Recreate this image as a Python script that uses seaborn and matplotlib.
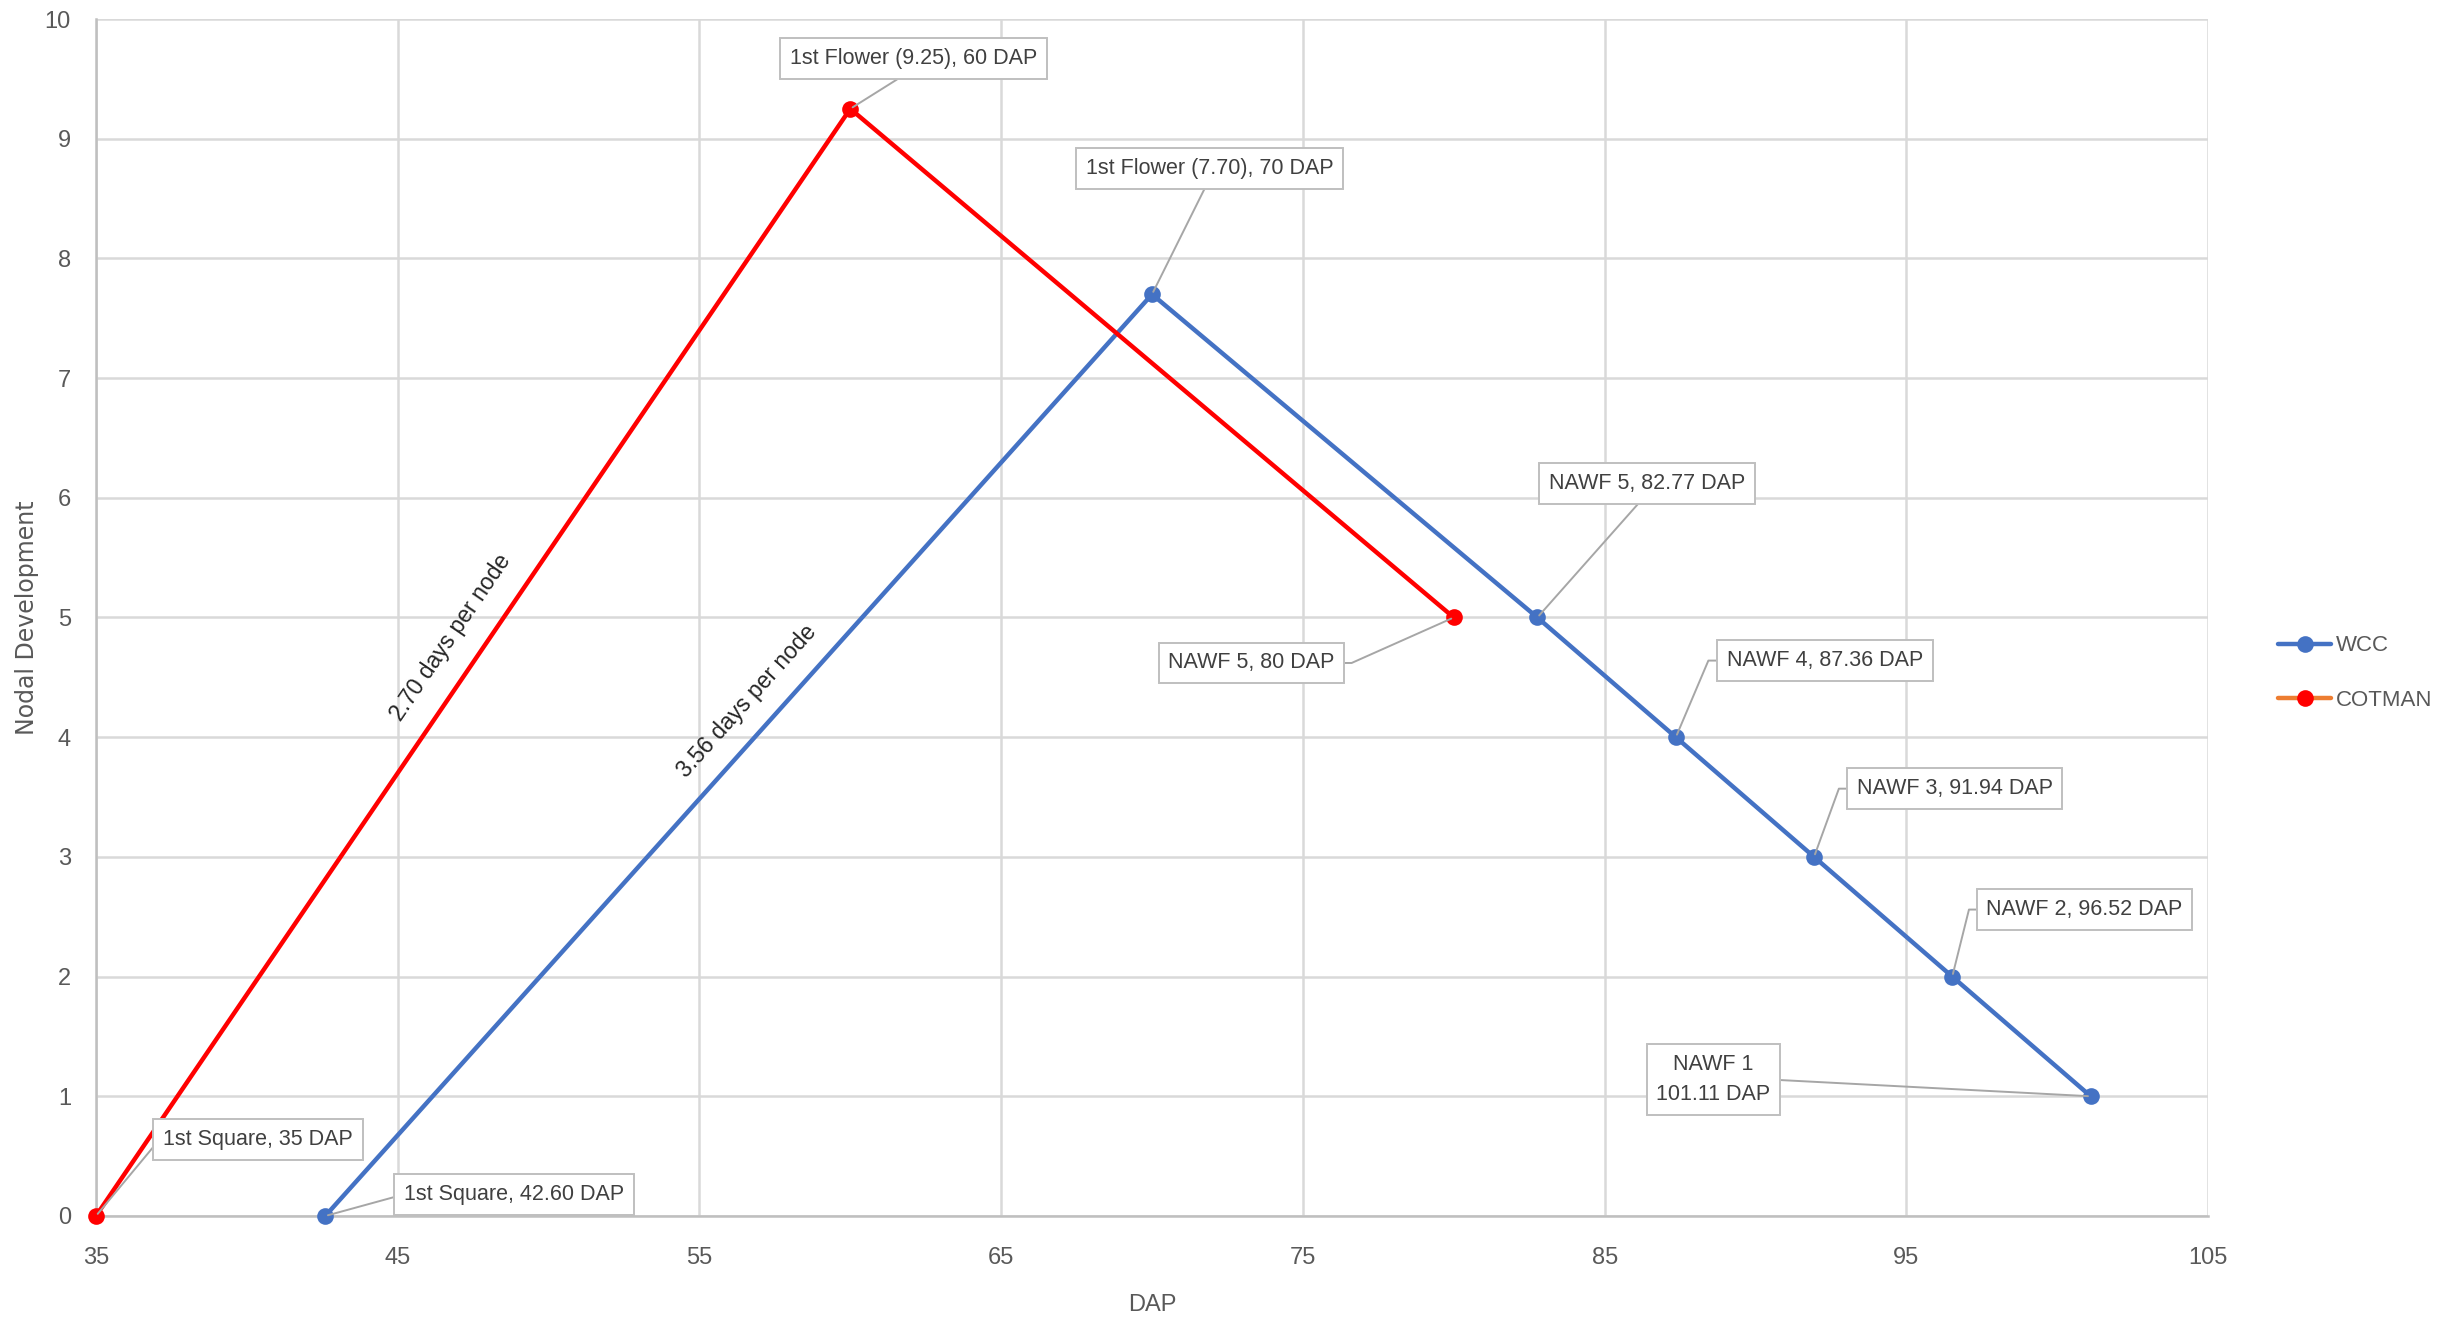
import numpy as np
import pandas as pd
import matplotlib
matplotlib.use("Agg")
import matplotlib.pyplot as plt
from matplotlib.lines import Line2D
import seaborn as sns

# ---- data -------------------------------------------------------------
wcc_dap = [42.60, 70.0, 82.77, 87.36, 91.94, 96.52, 101.11]
wcc_node = [0.0, 7.70, 5.0, 4.0, 3.0, 2.0, 1.0]
wcc_labels = ["1st Square, 42.60 DAP", "1st Flower (7.70), 70 DAP",
              "NAWF 5, 82.77 DAP", "NAWF 4, 87.36 DAP", "NAWF 3, 91.94 DAP",
              "NAWF 2, 96.52 DAP", "NAWF 1\n101.11 DAP"]

cot_dap = [35.0, 60.0, 80.0]
cot_node = [0.0, 9.25, 5.0]
cot_labels = ["1st Square, 35 DAP", "1st Flower (9.25), 60 DAP", "NAWF 5, 80 DAP"]

series_names = ["WCC", "COTMAN"]
x_ticks = [35, 45, 55, 65, 75, 85, 95, 105]
y_ticks = list(range(0, 11))

df = pd.DataFrame({
    "DAP": wcc_dap + cot_dap,
    "Node": wcc_node + cot_node,
    "Variety": ["WCC"] * len(wcc_dap) + ["COTMAN"] * len(cot_dap),
})

# ---- style ------------------------------------------------------------
sns.set_style("whitegrid")
plt.rcParams["font.family"] = ["Liberation Sans Narrow", "Liberation Sans", "DejaVu Sans"]

BLUE = "#4472C4"
RED = "#FF0000"
ORANGE = "#ED7D31"
GRID = "#d9d9d9"
TXT = "#595959"

fig = plt.figure(figsize=(24.41, 13.2), dpi=100)
ax = fig.add_axes([0.0393, 0.0788, 0.9046 - 0.0393, 0.9856 - 0.0788])

sns.lineplot(data=df, x="DAP", y="Node", hue="Variety",
             palette={"WCC": BLUE, "COTMAN": RED}, hue_order=series_names,
             marker="o", markersize=12, markeredgewidth=0, linewidth=3.2,
             sort=False, estimator=None, legend=False, ax=ax)
for ln in ax.lines:
    ln.set_clip_on(False)
    ln.set_zorder(4)

ax.set_xlim(35, 105)
ax.set_ylim(0, 10)
ax.set_xticks(x_ticks)
ax.set_yticks(y_ticks)
ax.tick_params(axis="both", colors=TXT, labelsize=17, length=0)
ax.tick_params(axis="x", pad=22)
ax.tick_params(axis="y", pad=18)
ax.grid(True, color=GRID, linewidth=1.8)
for side in ["top", "right"]:
    ax.spines[side].set_visible(False)
for side in ["left", "bottom"]:
    ax.spines[side].set_color("#bfbfbf")
    ax.spines[side].set_linewidth(1.8)
ax.set_xlabel("DAP", fontsize=17, color=TXT, labelpad=18)
ax.set_ylabel("Nodal Development", fontsize=17, color=TXT, labelpad=4,
              family=["DejaVu Sans"])

# ---- data callouts ----------------------------------------------------
box = dict(boxstyle="square,pad=0.45", fc="white", ec="#bfbfbf", lw=1.4)

def callout(x, y, text, tx, ty, relpos, conn="arc3"):
    ax.annotate(text, xy=(x, y), xytext=(tx, ty), textcoords="data",
                ha="center", va="center", fontsize=15.5, color="#404040",
                bbox=box, zorder=5, linespacing=1.6,
                arrowprops=dict(arrowstyle="-", color="#a6a6a6", lw=1.4,
                                shrinkA=0, shrinkB=2, relpos=relpos,
                                connectionstyle=conn))

wcc_text_pos = [(48.85, 0.18), (71.9, 8.75), (86.4, 6.12), (92.3, 4.64),
                (96.6, 3.57), (100.9, 2.56), (88.6, 1.14)]
wcc_relpos = [(0, 0.5), (0.5, 0), (0.5, 0), (0, 0.5), (0, 0.5), (0, 0.5), (1, 0.5)]
wcc_conn = ["arc3", "arc3", "arc3",
            "angle,angleA=0,angleB=67,rad=0",
            "angle,angleA=0,angleB=70,rad=0",
            "angle,angleA=0,angleB=76,rad=0",
            "arc3"]
for x, y, t, (tx, ty), rp, cs in zip(wcc_dap, wcc_node, wcc_labels,
                                     wcc_text_pos, wcc_relpos, wcc_conn):
    callout(x, y, t, tx, ty, rp, cs)

cot_text_pos = [(40.37, 0.64), (62.1, 9.67), (73.3, 4.62)]
cot_relpos = [(0, 0.7), (0.5, 0), (1, 0.5)]
cot_conn = ["arc3", "arc3", "angle,angleA=0,angleB=24,rad=0"]
for x, y, t, (tx, ty), rp, cs in zip(cot_dap, cot_node, cot_labels,
                                     cot_text_pos, cot_relpos, cot_conn):
    callout(x, y, t, tx, ty, rp, cs)

# ---- rate labels along the rising segments ---------------------------
def screen_angle(x0, y0, x1, y1):
    p0 = ax.transData.transform((x0, y0))
    p1 = ax.transData.transform((x1, y1))
    return np.degrees(np.arctan2(p1[1] - p0[1], p1[0] - p0[0]))

ang_cot = screen_angle(cot_dap[0], cot_node[0], cot_dap[1], cot_node[1])
ang_wcc = screen_angle(wcc_dap[0], wcc_node[0], wcc_dap[1], wcc_node[1])
ax.text(46.77, 4.83, "2.70 days per node", rotation=ang_cot, fontsize=16.5,
        color="#262626", ha="center", va="center", rotation_mode="anchor")
ax.text(56.58, 4.30, "3.56 days per node", rotation=ang_wcc, fontsize=16.5,
        color="#262626", ha="center", va="center", rotation_mode="anchor")

# ---- legend -----------------------------------------------------------
handles = [
    Line2D([], [], color=BLUE, lw=3.2, marker="o", markersize=12,
           markerfacecolor=BLUE, markeredgewidth=0),
    Line2D([], [], color=ORANGE, lw=3.2, marker="o", markersize=12,
           markerfacecolor=RED, markeredgewidth=0),
]
fig.legend(handles, series_names, loc="center left",
           bbox_to_anchor=(0.925, 1 - 673 / 1320), frameon=False,
           fontsize=16, labelcolor=TXT, handlelength=2.4, handletextpad=0.2,
           labelspacing=1.5)

fig.savefig("out.png", dpi=100, facecolor="white")
